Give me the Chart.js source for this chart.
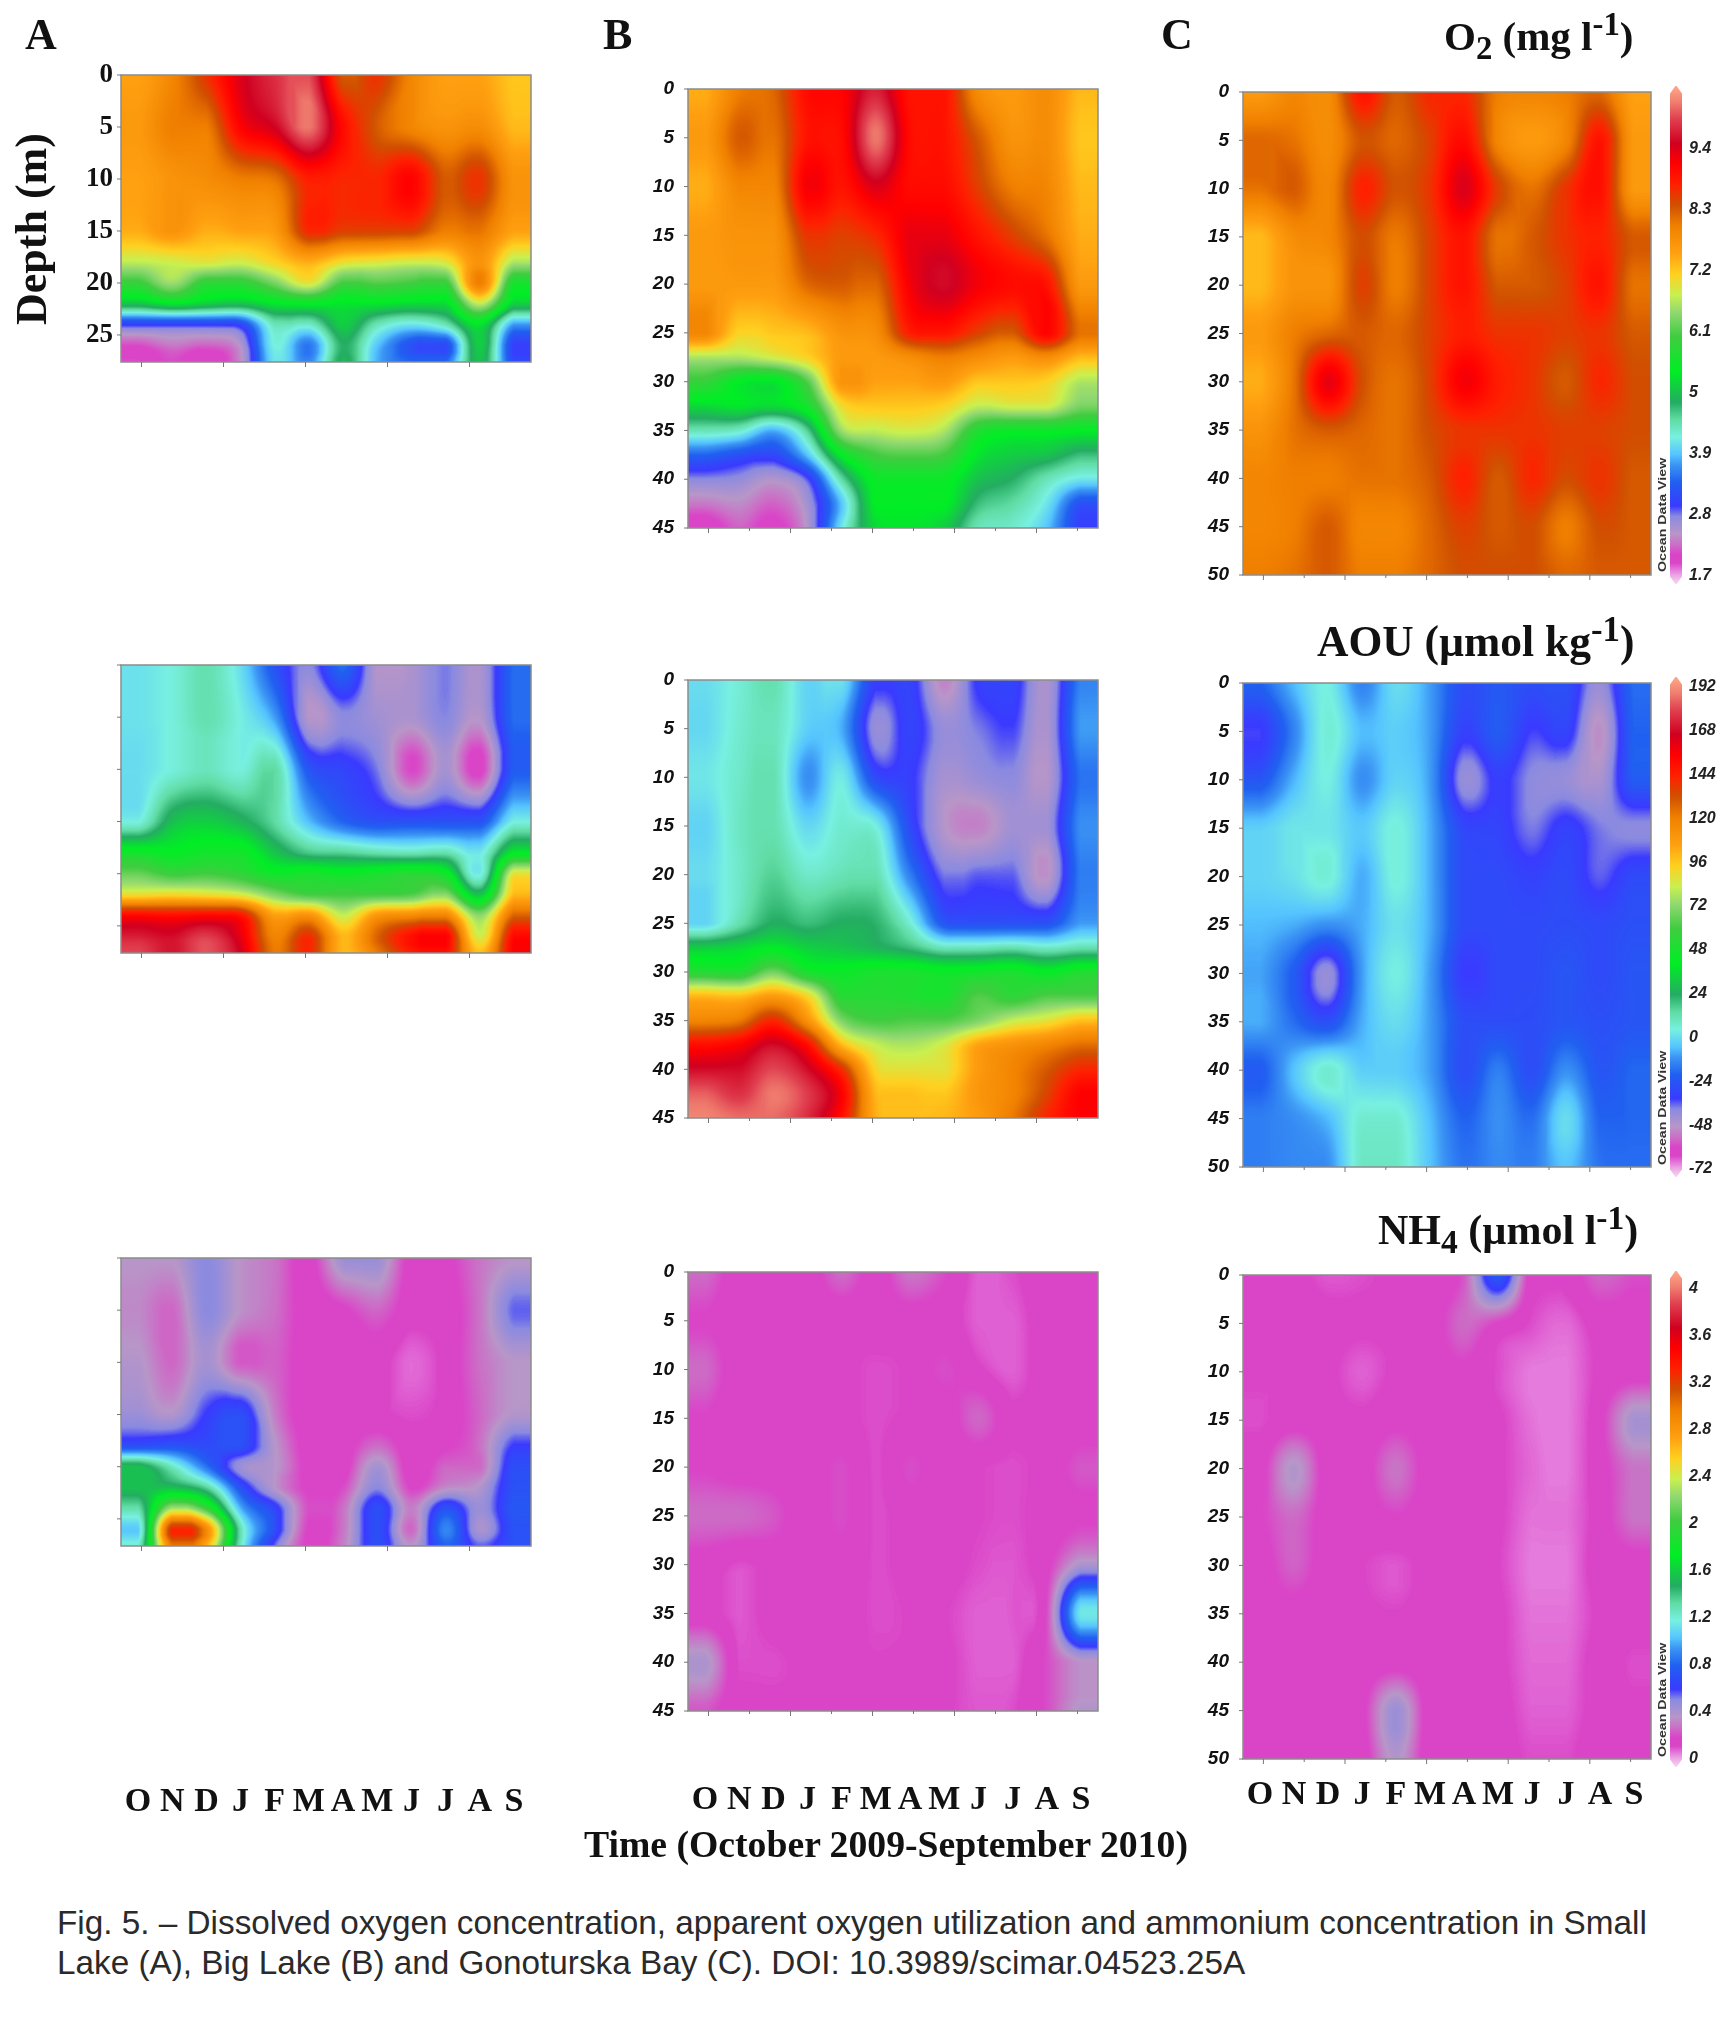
<!DOCTYPE html>
<html><head><meta charset="utf-8">
<script src="https://cdn.jsdelivr.net/npm/chart.js@4"></script>
<style>
html,body{margin:0;padding:0;background:#fff}
#root{position:relative;width:1732px;height:2031px;overflow:hidden;background:#fff}
canvas{position:absolute}
.t{position:absolute;white-space:nowrap;color:#111}
.s{font-family:"Liberation Serif";font-weight:bold}
.c{font-family:"Liberation Sans";color:#2a2a2a;font-size:33.3px}
.o{font-family:"Liberation Sans";font-weight:bold;font-size:10px;color:#333;transform-origin:left top;transform:rotate(-90deg) scaleX(1.42)}
sub,sup{font-size:0.8em;line-height:0}
</style></head><body><div id="root"></div>
<script>
const months=['O','N','D','J','F','M','A','M','J','J','A','S'];
const depthsA=[0,5,10,15,18,20,22,24,26,27.6];
const depthsB=[0,5,10,15,20,25,27.5,30,32.5,35,37.5,40,42.5,45];
const depthsB3=[0,5,10,15,20,25,30,35,40,45];
const depthsC=[0,5,10,15,20,25,30,35,40,45,50];
const o2Ticks=[1.7,2.8,3.9,5,6.1,7.2,8.3,9.4];
const aouTicks=[-72,-48,-24,0,24,48,72,96,120,144,168,192];
const nh4Ticks=[0,0.4,0.8,1.2,1.6,2,2.4,2.8,3.2,3.6,4];
const o2Range=[1.54,10.52];
const aouRange=[-76.4,197.4];
const nh4Range=[-0.068,4.153];

const o2A=[
[7.5,7.9,8.6,9.4,9.8,10.0,8.3,8.6,7.9,7.5,7.5,7.2],
[7.6,8.0,8.0,9.1,9.5,10.2,9.0,8.3,7.9,7.7,7.8,7.3],
[7.5,7.7,7.8,8.0,8.1,8.8,8.7,8.7,9.1,8.3,8.6,7.7],
[7.4,7.7,7.4,7.5,7.6,8.7,8.5,8.5,8.5,8.0,8.1,7.5],
[6.7,6.8,6.9,6.8,7.1,7.4,7.0,6.9,6.8,6.9,7.7,6.6],
[5.9,6.5,5.8,5.8,6.3,6.9,6.0,6.1,6.0,5.9,8.0,5.6],
[5.0,5.3,5.1,5.0,5.3,5.4,5.3,5.3,5.2,5.2,6.7,5.1],
[3.0,3.0,3.0,3.1,4.4,4.3,5.1,4.4,4.1,4.4,5.3,3.7],
[2.1,2.3,2.2,2.5,4.2,3.5,4.8,3.9,3.2,3.1,5.1,3.0],
[1.9,2.1,1.9,2.4,4.1,3.6,4.9,3.8,3.4,3.4,5.0,3.1]];
const aouA=[
[1,5,12,0,-25,-40,-18,-48,-46,-38,-46,-18],
[1,5,12,4,-10,-48,-40,-44,-46,-39,-48,-18],
[0,5,10,5,14,-24,-30,-38,-60,-45,-62,-22],
[4,28,32,26,14,-6,-20,-26,-26,-26,-26,4],
[46,42,46,46,30,18,16,12,10,12,2,40],
[66,58,60,55,45,48,44,48,52,45,3,88],
[90,92,90,85,70,60,60,60,62,72,30,100],
[152,150,152,148,106,112,82,110,115,118,72,128],
[172,168,178,160,118,140,100,128,150,155,84,152],
[180,170,182,165,122,142,100,122,145,150,98,155]];
const nh4A=[
[.36,.36,.5,.35,.28,.15,.45,.46,.14,.16,.28,.35],
[.33,.25,.5,.35,.27,.14,.17,.25,.13,.14,.28,.55],
[.38,.25,.42,.22,.24,.13,.11,.13,.07,.13,.27,.36],
[.45,.38,.6,.7,.3,.13,.12,.12,.1,.13,.25,.38],
[.7,.72,.68,.72,.37,.14,.14,.26,.13,.17,.27,.6],
[1.55,1.25,.85,.45,.37,.15,.14,.42,.13,.25,.25,.7],
[1.55,1.55,1.35,.72,.36,.17,.2,.5,.18,.33,.38,.72],
[1.3,2.3,2.0,1.0,.65,.2,.27,.7,.3,.72,.45,.75],
[1.05,3.3,2.9,1.3,.7,.17,.28,.7,.25,.9,.4,.72],
[1.2,3.0,2.7,1.25,.55,.16,.3,.7,.35,.8,.55,.72]];
const o2B=[
[7.4,8.0,8.2,9.0,9.1,9.7,8.9,8.9,7.8,7.6,7.8,7.3],
[7.6,8.3,8.1,8.9,9.0,10.2,9.0,8.9,8.3,7.7,7.8,7.2],
[7.4,7.9,7.9,9.2,8.9,9.4,9.0,9.0,8.5,8.0,7.9,7.3],
[7.6,7.7,7.7,8.6,8.5,8.7,9.3,9.3,8.9,8.5,8.1,7.4],
[7.6,7.6,7.6,8.2,8.3,8.2,9.2,9.55,9.2,9.0,8.9,7.6],
[7.9,7.1,7.2,7.3,7.7,7.8,8.8,8.9,8.5,8.3,9.1,8.1],
[6.6,6.6,6.8,7.1,7.6,7.6,7.8,8.0,7.8,7.6,7.8,7.3],
[5.9,5.4,5.3,6.1,7.7,7.5,7.5,7.6,7.2,7.2,7.1,6.6],
[5.2,5.3,5.2,5.6,7.0,7.2,7.2,7.1,6.7,6.8,6.8,6.3],
[4.4,4.3,3.8,4.6,6.5,6.7,6.8,6.6,5.7,5.5,5.5,5.4],
[3.4,3.2,3.1,3.9,5.4,6.0,6.1,6.0,5.3,5.1,5.0,4.7],
[2.75,2.7,2.5,2.9,4.5,5.5,5.5,5.5,5.0,4.8,4.4,4.1],
[2.3,2.4,2.2,2.6,3.9,5.4,5.4,5.4,4.7,4.5,4.1,3.2],
[1.9,2.2,2.0,2.5,4.1,5.2,5.3,5.1,4.4,4.3,3.9,3.0]];
const aouB=[
[0,6,12,-2,1,-32,-30,-52,-32,-30,-46,-14],
[-1,7,10,-3,-8,-42,-30,-42,-38,-34,-46,-10],
[2,8,12,-12,3,-28,-32,-45,-42,-40,-48,-17],
[-2,9,12,-1,7,4,-28,-48,-52,-44,-44,-12],
[0,8,16,8,11,12,-15,-38,-36,-36,-50,-15],
[-2,12,24,20,24,22,6,-24,-26,-26,-26,-10],
[32,35,40,33,30,26,20,10,10,12,8,12],
[52,50,68,48,44,48,48,44,46,48,42,50],
[100,98,108,92,52,52,50,48,62,55,62,62],
[118,122,142,112,70,60,62,62,70,82,88,98],
[150,155,168,150,100,82,78,85,105,112,118,125],
[168,168,180,168,140,92,88,88,108,118,130,142],
[184,176,188,178,155,100,98,96,110,118,135,155],
[190,186,186,175,150,102,98,100,108,122,142,155]];
const nh4B=[
[.26,.13,.18,.13,.26,.14,.28,.2,.08,.1,.15,.13],
[.18,.13,.13,.12,.12,.13,.14,.14,.08,.08,.14,.13],
[.26,.12,.12,.12,.12,.1,.12,.2,.12,.08,.14,.12],
[.18,.12,.14,.12,.12,.1,.12,.13,.25,.12,.13,.13],
[.18,.14,.14,.13,.2,.1,.2,.12,.11,.1,.13,.22],
[.26,.26,.22,.13,.2,.1,.14,.12,.11,.1,.13,.17],
[.15,.1,.13,.13,.16,.1,.13,.13,.1,.09,.16,.4],
[.13,.09,.13,.15,.14,.1,.11,.11,.08,.09,.2,1.15],
[.4,.1,.1,.12,.12,.11,.12,.12,.08,.08,.2,.35],
[.22,.12,.12,.12,.12,.12,.17,.12,.09,.1,.2,.38]];
const o2C=[
[7.6,7.9,7.8,8.9,8.3,8.7,8.7,8.0,7.9,8.0,8.2,7.5],
[8.2,8.1,7.8,8.35,8.2,8.5,9.0,7.9,7.6,7.9,8.9,7.6],
[8.1,8.3,7.9,8.75,8.35,8.6,9.4,8.5,8.1,8.6,8.95,7.6],
[7.3,7.8,7.9,8.4,8.05,8.5,8.9,8.1,8.3,8.6,8.75,8.3],
[7.3,7.7,7.7,8.5,8.0,8.5,8.9,8.3,8.3,8.5,8.9,8.1],
[7.6,8.0,8.2,8.3,8.2,8.5,8.8,8.6,8.6,8.5,8.6,8.3],
[7.4,8.1,9.3,8.4,8.1,8.5,9.2,8.8,8.6,8.3,8.7,8.4],
[7.7,8.1,8.3,8.2,8.1,8.4,8.6,8.6,8.6,8.5,8.5,8.4],
[7.9,8.0,8.0,8.1,8.1,8.3,8.75,8.3,8.7,8.4,8.6,8.3],
[7.9,8.0,8.3,7.9,7.9,8.2,8.5,8.3,8.4,8.0,8.4,8.3],
[8.0,8.1,8.3,8.0,8.0,8.2,8.4,8.4,8.4,8.2,8.3,8.3]];
const aouC=[
[-20,-6,4,-14,0,-10,-27,-23,-27,-26,-42,-18],
[-34,-14,6,-6,-3,-10,-31,-22,-34,-30,-50,-20],
[-24,-7,4,-12,-2,-10,-42,-32,-40,-42,-46,-22],
[-3,2,2,-4,5,-8,-29,-30,-38,-31,-38,-40],
[-2,1,6,-8,5,-8,-28,-28,-31,-28,-36,-28],
[-6,-8,-12,-8,1,-8,-28,-28,-28,-27,-28,-26],
[-9,-22,-42,-10,4,-10,-33,-28,-28,-24,-28,-24],
[-8,-18,-26,-8,0,-10,-27,-27,-27,-24,-26,-24],
[-22,-5,7,-3,-3,-10,-27,-15,-27,-12,-24,-19],
[-15,-12,-6,7,7,-6,-20,-12,-18,0,-20,-19],
[-15,-13,-12,9,9,-5,-17,-13,-15,-5,-17,-18]];
const nh4C=[
[.15,.13,.09,.1,.12,.13,.22,.75,.12,.13,.25,.2],
[.15,.15,.13,.12,.12,.13,.26,.18,.1,.07,.14,.14],
[.12,.12,.12,.08,.12,.13,.17,.1,.05,.05,.12,.14],
[.1,.14,.13,.12,.16,.14,.17,.12,.06,.05,.16,.42],
[.15,.38,.13,.14,.28,.14,.17,.12,.07,.05,.15,.28],
[.18,.26,.14,.14,.18,.14,.17,.12,.06,.06,.14,.28],
[.14,.24,.13,.11,.09,.13,.14,.11,.05,.05,.14,.15],
[.15,.15,.13,.12,.11,.13,.13,.12,.06,.06,.12,.14],
[.13,.13,.13,.13,.14,.13,.13,.12,.07,.07,.13,.1],
[.13,.17,.13,.16,.45,.13,.13,.13,.08,.08,.13,.12],
[.13,.13,.14,.14,.38,.12,.13,.13,.1,.1,.14,.12]];

const paletteStops=[[0,'#f6d8f2'],[.0175,'#eaa6e2'],[.028,'#e57cdc'],[.042,'#da45c8'],[.06,'#da45c8'],[.078,'#cc6cc6'],[.101,'#b896c8'],[.136,'#8a8ae0'],[.1565,'#3a3aff'],[.205,'#2060f0'],[.24,'#3c96f4'],[.26,'#55c4ff'],[.295,'#78f0e0'],[.33,'#60dca4'],[.365,'#24ac62'],[.427,'#00ee24'],[.497,'#40cc40'],[.545,'#90d870'],[.58,'#c8f050'],[.622,'#ffd020'],[.664,'#ffa010'],[.719,'#f08000'],[.761,'#d05000'],[.802,'#ff2000'],[.844,'#ff0000'],[.885,'#d00020'],[.934,'#e04050'],[.969,'#f08070'],[1,'#ffa888']];
const lut=(()=>{const n=1024,o=new Uint8ClampedArray(n*3);const rgb=h=>[1,3,5].map(i=>parseInt(h.substr(i,2),16));
  for(let i=0;i<n;i++){const p=i/(n-1);let k=0;while(k<paletteStops.length-2&&paletteStops[k+1][0]<p)k++;
    const [a,ca]=paletteStops[k],[b,cb]=paletteStops[k+1],u=Math.min(1,Math.max(0,(p-a)/(b-a))),A=rgb(ca),B=rgb(cb);
    for(let j=0;j<3;j++)o[i*3+j]=A[j]+(B[j]-A[j])*u;}return o;})();

function cr(a,b,c,d,t){const v=0.5*(2*b+(c-a)*t+(2*a-5*b+4*c-d)*t*t+(3*b-a-3*c+d)*t*t*t);
  return Math.min(Math.max(b,c),Math.max(Math.min(b,c),v));}
const cl=(i,n)=>i<0?0:i>=n?n-1:i;

const fieldPlugin={id:'field',
 beforeDatasetsDraw(chart){const ds=chart.data.datasets[0];if(!ds.field)return;
  const {x:sx,y:sy}=chart.scales,a=chart.chartArea,ctx=chart.ctx;
  const L=Math.round(a.left),T=Math.round(a.top),W=Math.round(a.right)-L,H=Math.round(a.bottom)-T;
  const img=ctx.createImageData(W,H),{values,depths,range}=ds.field,nr=depths.length,nc=values[0].length;
  const rowPos=new Float64Array(H);
  for(let py=0;py<H;py++){const d=sy.getValueForPixel(T+py+.5);let k=0;while(k<nr-2&&depths[k+1]<d)k++;
    rowPos[py]=k+Math.max(0,Math.min(1,(d-depths[k])/(depths[k+1]-depths[k])));}
  let idx=0;const tmp=new Float64Array(4);
  for(let py=0;py<H;py++){const r=rowPos[py],r0=Math.floor(r),tr=r-r0;
   for(let px=0;px<W;px++){const c=sx.getValueForPixel(L+px+.5)-.5,c0=Math.floor(c),tc=c-c0;
    for(let q=0;q<4;q++){const row=values[cl(r0-1+q,nr)];
      tmp[q]=cr(row[cl(c0-1,nc)],row[cl(c0,nc)],row[cl(c0+1,nc)],row[cl(c0+2,nc)],tc);}
    const v=cr(tmp[0],tmp[1],tmp[2],tmp[3],tr);
    const p=Math.max(0,Math.min(1023,Math.round((v-range[0])/(range[1]-range[0])*1023)));
    img.data[idx++]=lut[p*3];img.data[idx++]=lut[p*3+1];img.data[idx++]=lut[p*3+2];img.data[idx++]=255;}}
  ctx.putImageData(img,L,T);
 },
 afterDraw(chart){const ds=chart.data.datasets[0];if(!ds.field)return;const a=chart.chartArea,c=chart.ctx;
  c.save();c.strokeStyle='#8c8c8c';c.lineWidth=1.5;c.strokeRect(a.left,a.top,a.right-a.left,a.bottom-a.top);c.restore();}};
Chart.register(fieldPlugin);

const root=document.getElementById('root');
function mk(l,t,w,h){const c=document.createElement('canvas');c.width=w;c.height=h;c.style.left=l+'px';c.style.top=t+'px';c.style.width=w+'px';c.style.height=h+'px';c.style.filter='blur(0.6px)';root.appendChild(c);return c;}

function heat(o){
 const axisW=70,padTop=16,padRight=6,xH=8,monthH=o.monthPad?o.monthPad+44:0;
 const w=o.r-o.l,h=o.b-o.t,cv=mk(o.l-axisW,o.t-padTop,axisW+w+padRight,padTop+h+xH+monthH);
 const pts=[];o.values.forEach((row,i)=>row.forEach((v,j)=>pts.push({x:j+.5,y:o.depths[i],v})));
 const xTicks=o.serif||o.labels===false?[.6,3,5.4,7.8,10.2]:[.6,1.8,3,4.2,5.4,6.6,7.8,9,10.2,11.4];
 const scales={
  x:{type:'linear',min:0,max:12,position:'bottom',weight:0,border:{display:false},grid:{display:false,drawTicks:true},
     afterBuildTicks:s=>{s.ticks=xTicks.map(value=>({value}));},
     ticks:{display:false},afterFit:s=>{s.height=xH;s.paddingLeft=0;s.paddingRight=0;}},
  y:{type:'linear',min:0,max:o.depthMax,reverse:true,border:{display:false},
     grid:{display:false},afterFit:s=>{s.width=axisW;s.paddingTop=0;s.paddingBottom=0;},
     ticks:{stepSize:5,includeBounds:false,autoSkip:false,display:o.labels!==false,padding:o.serif?0:6,color:'#111',
      font:o.serif?{family:'Liberation Serif',weight:'bold',size:27}:{family:'Liberation Sans',weight:'bold',style:'italic',size:19}}}};
 const tickPlugin={id:'tk',afterDraw(ch){const c=ch.ctx,a=ch.chartArea;c.save();c.strokeStyle='#777';c.lineWidth=1;
   ch.scales.x.ticks.forEach((t,i)=>{const px=ch.scales.x.getPixelForValue(t.value);c.beginPath();c.moveTo(px,a.bottom);c.lineTo(px,a.bottom+(xTicks.length>5&&i%2?3:5));c.stroke();});
   ch.scales.y.ticks.forEach(t=>{const py=ch.scales.y.getPixelForValue(t.value);c.beginPath();c.moveTo(a.left,py);c.lineTo(a.left-4,py);c.stroke();});c.restore();}};
 if(o.monthPad){
  scales.xm={type:'category',labels:months,offset:true,position:'bottom',weight:1,border:{display:false},grid:{display:false,drawTicks:false},
    ticks:{autoSkip:false,maxRotation:0,padding:o.monthPad,color:'#111',font:{family:'Liberation Serif',weight:'bold',size:34}},
    afterFit:s=>{s.height=monthH;s.paddingLeft=0;s.paddingRight=0;}};
 }
 new Chart(cv,{type:'scatter',
  data:{datasets:[{data:pts,pointRadius:0,field:{values:o.values,depths:o.depths,range:o.range}}]},
  plugins:[tickPlugin],
  options:{responsive:false,animation:false,devicePixelRatio:1,
   layout:{padding:{top:padTop,right:padRight,left:0,bottom:0}},
   plugins:{legend:{display:false},tooltip:{enabled:false}},scales}});
}
function bar(o){
 const padL=10,axisW=56,padV=12;
 const cv=mk(1660,o.t-padV,padL+12+axisW,o.b-o.t+2*padV);
 const tipPlugin={id:'tip',afterDatasetsDraw(ch){const c=ch.ctx,a=ch.chartArea,m=(a.left+a.right)/2,t=9;c.save();c.globalCompositeOperation='destination-out';
   [[a.left-1,a.top-1,a.left-1,a.top+t,m,a.top-1],[a.right+1,a.top-1,a.right+1,a.top+t,m,a.top-1],
    [a.left-1,a.bottom+1,a.left-1,a.bottom-t,m,a.bottom+1],[a.right+1,a.bottom+1,a.right+1,a.bottom-t,m,a.bottom+1]].forEach(q=>{c.beginPath();c.moveTo(q[0],q[1]);c.lineTo(q[2],q[3]);c.lineTo(q[4],q[5]);c.closePath();c.fill();});c.restore();}};
 new Chart(cv,{type:'bar',
  data:{labels:[o.name],datasets:[{data:[o.range],barPercentage:1,categoryPercentage:1,
   backgroundColor:ctx=>{const a=ctx.chart.chartArea;if(!a)return '#888';const g=ctx.chart.ctx.createLinearGradient(0,a.bottom,0,a.top);paletteStops.forEach(s=>g.addColorStop(s[0],s[1]));return g;}}]},
  plugins:[tipPlugin],
  options:{responsive:false,animation:false,devicePixelRatio:1,layout:{padding:{left:padL,top:padV,bottom:padV,right:0}},
   plugins:{legend:{display:false},tooltip:{enabled:false}},
   scales:{x:{display:false},
    y:{position:'right',min:o.range[0],max:o.range[1],border:{display:false},grid:{display:false,drawTicks:false},
     afterBuildTicks:s=>{s.ticks=o.ticks.map(value=>({value}));},afterFit:s=>{s.width=axisW;s.paddingTop=0;s.paddingBottom=0;},
     ticks:{autoSkip:false,padding:7,color:'#222',callback:v=>String(v),font:{family:'Liberation Sans',weight:'bold',style:'italic',size:16}}}}}});
}
heat({l:121,r:531,t:75,b:362,depths:depthsA,depthMax:27.6,values:o2A,range:o2Range,serif:true});
heat({l:121,r:531,t:665,b:953,depths:depthsA,depthMax:27.6,values:aouA,range:aouRange,labels:false});
heat({l:121,r:531,t:1258,b:1546,depths:depthsA,depthMax:27.6,values:nh4A,range:nh4Range,labels:false,monthPad:228});
heat({l:688,r:1098,t:89,b:528,depths:depthsB,depthMax:45,values:o2B,range:o2Range});
heat({l:688,r:1098,t:680,b:1118,depths:depthsB,depthMax:45,values:aouB,range:aouRange});
heat({l:688,r:1098,t:1272,b:1711,depths:depthsB3,depthMax:45,values:nh4B,range:nh4Range,monthPad:61});
heat({l:1243,r:1651,t:92,b:575,depths:depthsC,depthMax:50,values:o2C,range:o2Range});
heat({l:1243,r:1651,t:683,b:1167,depths:depthsC,depthMax:50,values:aouC,range:aouRange});
heat({l:1243,r:1651,t:1275,b:1759,depths:depthsC,depthMax:50,values:nh4C,range:nh4Range,monthPad:8});
bar({name:'O2',t:86,b:584,range:o2Range,ticks:o2Ticks});
bar({name:'AOU',t:677,b:1177,range:aouRange,ticks:aouTicks});
bar({name:'NH4',t:1271,b:1767,range:nh4Range,ticks:nh4Ticks});

function txt(cls,html,l,t,extra){const d=document.createElement('div');d.className='t '+cls;d.innerHTML=html;d.style.left=l+'px';d.style.top=t+'px';if(extra)Object.assign(d.style,extra);root.appendChild(d);return d;}
const soft={filter:'blur(0.5px)'};
txt('s','A',25,9,{fontSize:'44px',...soft});
txt('s','B',603,9,{fontSize:'44px',...soft});
txt('s','C',1161,9,{fontSize:'44px',...soft});
txt('s','O<sub>2</sub> (mg l<sup>-1</sup>)',1444,12,{fontSize:'41px',...soft});
txt('s','AOU (µmol kg<sup>-1</sup>)',1317,616,{fontSize:'43.5px',...soft});
txt('s','NH<sub>4</sub> (µmol l<sup>-1</sup>)',1378,1206,{fontSize:'42px',...soft});
txt('s','Depth (m)',6,325,{fontSize:'44px',transformOrigin:'left top',transform:'rotate(-90deg)',...soft});
txt('s','Time (October 2009-September 2010)',584,1822,{fontSize:'37.7px',...soft});
txt('c','Fig. 5. – Dissolved oxygen concentration, apparent oxygen utilization and ammonium concentration in Small',57,1904);
txt('c','Lake (A), Big Lake (B) and Gonoturska Bay (C). DOI: 10.3989/scimar.04523.25A',57,1944);
[572,1165,1757].forEach(y=>txt('o','Ocean Data View',1657,y,soft));
</script></body></html>
